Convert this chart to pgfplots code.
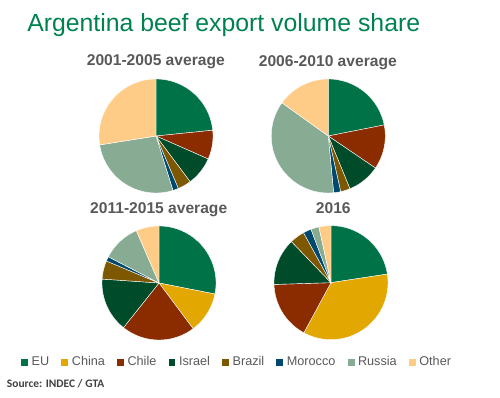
\documentclass[border=0pt]{standalone}
\usepackage{pgfplots}
\pgfplotsset{compat=1.18}
\usepackage{pgfplotstable}
\usepackage{fontspec}
\setmainfont{Liberation Sans}
\newfontfamily\carlito{Carlito}

\definecolor{eucol}{RGB}{0,114,72}
\definecolor{chinacol}{RGB}{226,167,0}
\definecolor{chilecol}{RGB}{139,43,0}
\definecolor{israelcol}{RGB}{0,75,42}
\definecolor{brazilcol}{RGB}{125,88,0}
\definecolor{moroccocol}{RGB}{0,73,110}
\definecolor{russiacol}{RGB}{135,171,147}
\definecolor{othercol}{RGB}{255,204,136}
\definecolor{titlegreen}{RGB}{0,130,80}
\definecolor{subgray}{RGB}{89,89,89}
\definecolor{srcgray}{RGB}{64,64,64}

\pgfplotstableread{
region  col         p1    p2    p3    p4
EU      eucol       23.4  21.9  28.1  22.6
China   chinacol    0     0     11.7  35.3
Chile   chilecol    8.2   12.6  20.9  16.6
Israel  israelcol   8.2   9.3   15.4  13.3
Brazil  brazilcol   3.8   2.7   5.2   4.2
Morocco moroccocol  1.6   2.0   1.3   2.3
Russia  russiacol   27.3  36.4  10.9  2.3
Other   othercol    27.5  15.1  6.5   3.4
}\shares

\newcommand\drawpie[1]{%
  \def\cum{0}%
  \pgfplotsforeachungrouped \i in {0,...,7}{%
    \pgfplotstablegetelem{\i}{#1}\of\shares
    \let\val\pgfplotsretval
    \pgfplotstablegetelem{\i}{col}\of\shares
    \let\col\pgfplotsretval
    \pgfmathsetmacro\a{90-3.6*\cum}%
    \pgfmathsetmacro\cum{\cum+\val}%
    \pgfmathsetmacro\b{90-3.6*\cum}%
    \ifdim\val pt>0pt
      \edef\tmp{\noexpand\addplot[fill=\col, draw=white, line width=0.3pt, domain=\b:\a, samples=60] ({cos(x)},{sin(x)}) -- (axis cs:0,0) -- cycle;}%
      \tmp
    \fi
  }%
}

\pgfplotsset{pie/.style={anchor=center, scale only axis, width=85.5pt, height=85.5pt,
  xmin=-1, xmax=1, ymin=-1, ymax=1, hide axis, clip=false}}

\newcommand\sqimg[1]{\addlegendimage{legend image code/.code={\fill[#1] (0pt,-2.2pt) rectangle (4.4pt,2.2pt);}}}

\begin{document}
\begin{tikzpicture}[x=0.75pt, y=0.75pt]
\useasboundingbox (0,0) rectangle (500,398);

\node[anchor=base west, text=titlegreen, font=\fontsize{18.6}{22}\selectfont, inner sep=0pt] at (27,366) {Argentina beef export volume share};

\node[anchor=base, text=subgray, font=\fontsize{11.7}{14}\selectfont\bfseries, inner sep=0pt] at (155.8,332) {2001-2005 average};
\node[anchor=base, text=subgray, font=\fontsize{11.7}{14}\selectfont\bfseries, inner sep=0pt] at (327.8,331.3) {2006-2010 average};
\node[anchor=base, text=subgray, font=\fontsize{11.7}{14}\selectfont\bfseries, inner sep=0pt] at (158.7,184) {2011-2015 average};
\node[anchor=base, text=subgray, font=\fontsize{11.7}{14}\selectfont\bfseries, inner sep=0pt] at (333.3,184.7) {2016};

\begin{axis}[pie, at={(117pt,196.5pt)}]
\drawpie{p1}
\end{axis}
\begin{axis}[pie, at={(246.2pt,196.5pt)}]
\drawpie{p2}
\end{axis}
\begin{axis}[pie, at={(119.25pt,86.25pt)}]
\drawpie{p3}
\end{axis}
\begin{axis}[pie, at={(248.25pt,86.5pt)}]
\drawpie{p4}
\end{axis}

\begin{axis}[at={(15.75pt,27pt)}, anchor=south west, scale only axis, width=10pt, height=10pt,
  hide axis, xmin=0, xmax=1, ymin=0, ymax=1,
  legend columns=8,
  legend style={at={(0,0)}, anchor=west, draw=none, fill=none, inner xsep=0pt, inner ysep=0pt,
    font=\fontsize{9.5}{11}\selectfont, text=subgray,
    nodes={inner sep=0pt},
    /tikz/every odd column/.append style={column sep=3pt},
    /tikz/every even column/.append style={column sep=9.15pt}}]
\sqimg{eucol}\addlegendentry{EU}
\sqimg{chinacol}\addlegendentry{China}
\sqimg{chilecol}\addlegendentry{Chile}
\sqimg{israelcol}\addlegendentry{Israel}
\sqimg{brazilcol}\addlegendentry{Brazil}
\sqimg{moroccocol}\addlegendentry{Morocco}
\sqimg{russiacol}\addlegendentry{Russia}
\sqimg{othercol}\addlegendentry{Other}
\end{axis}

\node[anchor=base west, text=srcgray, font=\carlito\bfseries\fontsize{8.6}{10}\selectfont, inner sep=0pt] at (6.7,10.3) {Source: INDEC / GTA};
\end{tikzpicture}
\end{document}
